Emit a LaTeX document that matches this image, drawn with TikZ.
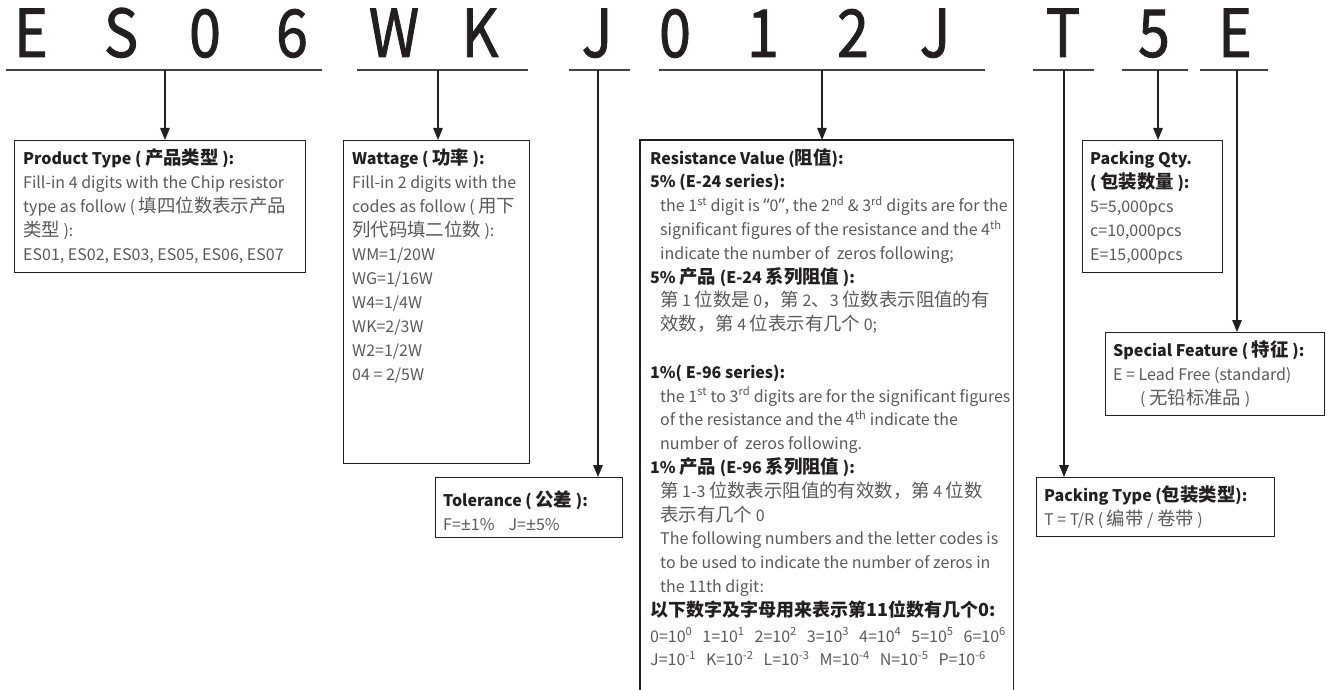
\documentclass[tikz,border=0pt]{standalone}
\usepackage{fontspec}
\setmainfont{Noto Sans CJK SC}
\newfontfamily\latq[Scale=1.1]{Noto Sans}
\newfontfamily\zhf[Scale=1.15]{Noto Sans CJK SC}
\newfontfamily\codefont[FakeBold=1.4]{Noto Sans CJK SC}
\usetikzlibrary{arrows.meta}
\definecolor{ink}{HTML}{231F20}
\definecolor{bodygray}{HTML}{58595B}
\newcommand\hd[1]{\textbf{\textcolor{ink}{#1}}}
\newcommand\zh[1]{{\zhf #1}}
\newcommand\sps[1]{\textsuperscript{#1}}
\newcommand\ind{\hspace*{10pt}}
\newcommand\plmn{{\latq ±}}
\newcommand\codeltr[1]{\scalebox{0.87}[1]{#1}}
\tikzset{
  letter/.style={font=\codefont\fontsize{66}{70}\selectfont, text=ink, inner sep=0pt, anchor=base},
  uline/.style={line width=1.6pt, draw=ink!85},
  conn/.style={line width=1.3pt, draw=ink, -{Triangle[length=12pt,width=9.5pt]}},
  boxr/.style={draw=ink, line width=1.1pt, inner sep=0pt, anchor=north west},
  openbox/.style={inner sep=0pt, anchor=north west},
  txt/.style={anchor=north west, inner sep=0pt, align=left, text=bodygray, font=\fontsize{16}{24}\selectfont},
  rtxt/.style={anchor=north west, inner sep=0pt, align=left, text=bodygray, font=\fontsize{16}{23.8}\selectfont},
}
\begin{document}
\begin{tikzpicture}[x=1pt,y=-1pt]
\path[use as bounding box] (0,0) rectangle (1327,690);

% code letters
\node[letter] (l1) at (31,57) {\codeltr{E}};
\node[letter] (l2) at (121,57) {\codeltr{S}};
\node[letter] (l3) at (205,57) {\codeltr{0}};
\node[letter] (l4) at (292,57) {\codeltr{6}};
\node[letter] (l5) at (394,57) {\codeltr{W}};
\node[letter] (l6) at (480,57) {\codeltr{K}};
\node[letter] (l7) at (597,57) {\codeltr{J}};
\node[letter] (l8) at (675,57) {\codeltr{0}};
\node[letter] (l9) at (763,57) {\codeltr{1}};
\node[letter] (l10) at (853,57) {\codeltr{2}};
\node[letter] (l11) at (935,57) {\codeltr{J}};
\node[letter] (l12) at (1063,57) {\codeltr{T}};
\node[letter] (l13) at (1154,57) {\codeltr{5}};
\node[letter] (l14) at (1235,57) {\codeltr{E}};

% underlines
\coordinate (u1a) at (6,70);    \coordinate (u1b) at (322,70);
\coordinate (u2a) at (357,70);  \coordinate (u2b) at (528,70);
\coordinate (u3a) at (569,70);  \coordinate (u3b) at (630,70);
\coordinate (u4a) at (659,70);  \coordinate (u4b) at (985,70);
\coordinate (u5a) at (1033,70); \coordinate (u5b) at (1094,70);
\coordinate (u6a) at (1122,70); \coordinate (u6b) at (1188,70);
\coordinate (u7a) at (1200,70); \coordinate (u7b) at (1268,70);
\foreach \i in {1,...,7}{\draw[uline] (u\i a) -- (u\i b);}

% arrow start points on the underlines
\coordinate (a1) at (165,70);
\coordinate (a2) at (438,70);
\coordinate (a3) at (598,70);
\coordinate (a4) at (822,70);
\coordinate (a5) at (1064,70);
\coordinate (a6) at (1158,70);
\coordinate (a7) at (1237,70);

% boxes
\node[boxr, minimum width=291pt, minimum height=132pt] (prod) at (14,140) {};
\node[boxr, minimum width=186pt, minimum height=323pt] (watt) at (343,140) {};
\node[boxr, minimum width=187pt, minimum height=60pt] (tol) at (435,477) {};
\node[openbox, minimum width=373pt, minimum height=580pt] (res) at (640,140) {};
\draw[draw=ink, line width=1.1pt] (res.south west) -- (res.north west) -- (res.north east) -- (res.south east);
\node[boxr, minimum width=140pt, minimum height=132pt] (qty) at (1082,140) {};
\node[boxr, minimum width=219pt, minimum height=83pt] (spec) at (1105,332) {};
\node[boxr, minimum width=238pt, minimum height=59pt] (ptype) at (1036,477) {};

% connectors
\draw[conn] (a1) -- (a1 |- prod.north);
\draw[conn] (a2) -- (a2 |- watt.north);
\draw[conn] (a3) -- (a3 |- tol.north);
\draw[conn] (a4) -- (a4 |- res.north);
\draw[conn] (a5) -- (a5 |- ptype.north);
\draw[conn] (a6) -- (a6 |- qty.north);
\draw[conn] (a7) -- (a7 |- spec.north);

% texts
\node[txt] (prodT) at (23,147.2) {\strut\hd{Product Type ( \zh{产品类型} ):}\\
Fill-in 4 digits with the Chip resistor\\
type as follow ( \zh{填四位数表示产品}\\
\zh{类型} ):\\
ES01, ES02, ES03, ES05, ES06, ES07};

\node[txt] (wattT) at (352,147.2) {\strut\hd{Wattage ( \zh{功率} ):}\\
Fill-in 2 digits with the\\
codes as follow ( \zh{用下}\\
\zh{列代码填二位数} ):\\
WM=1/20W\\
WG=1/16W\\
W4=1/4W\\
WK=2/3W\\
W2=1/2W\\
04 = 2/5W};

\node[txt] (tolT) at (443,489.2) {\strut\hd{Tolerance ( \zh{公差} ):}\\
F=\plmn1\%\hspace{14pt}J=\plmn5\%};

\node[rtxt] (resT) at (650,147.3) {\strut\hd{Resistance Value (\zh{阻值}):}\\
\hd{5\% (E-24 series):}\\
\ind the 1\sps{st} digit is {\latq “}0{\latq ”}, the 2\sps{nd} \& 3\sps{rd} digits are for the\\
\ind significant figures of the resistance and the 4\sps{th}\\
\ind indicate the number of\ \ zeros following;\\
\hd{5\% \zh{产品} (E-24 \zh{系列阻值} ):}\\
\ind \zh{第} 1 \zh{位数是} 0\zh{，第} 2\zh{、}3 \zh{位数表示阻值的有}\\
\ind \zh{效数，第} 4 \zh{位表示有几个} 0;\\
\mbox{}\\
\hd{1\%( E-96 series):}\\
\ind the 1\sps{st} to 3\sps{rd} digits are for the significant figures\\
\ind of the resistance and the 4\sps{th} indicate the\\
\ind number of\ \ zeros following.\\
\hd{1\% \zh{产品} (E-96 \zh{系列阻值} ):}\\
\ind \zh{第} 1-3 \zh{位数表示阻值的有效数，第} 4 \zh{位数}\\
\ind \zh{表示有几个} 0\\
\ind The following numbers and the letter codes is\\
\ind to be used to indicate the number of zeros in\\
\ind the 11th digit:\\
{\fontsize{18}{23.8}\selectfont\hd{以下数字及字母用来表示第11位数有几个0:}}\\[2pt]
{\fontsize{16}{23.8}\selectfont 0=10\sps{0}\hspace{10pt}1=10\sps{1}\hspace{10pt}2=10\sps{2}\hspace{10pt}3=10\sps{3}\hspace{10pt}4=10\sps{4}\hspace{10pt}5=10\sps{5}\hspace{10pt}6=10\sps{6}}\\
{\fontsize{16}{23.8}\selectfont J=10\sps{-1}\hspace{10pt}K=10\sps{-2}\hspace{10pt}L=10\sps{-3}\hspace{10pt}M=10\sps{-4}\hspace{10pt}N=10\sps{-5}\hspace{10pt}P=10\sps{-6}}};

\node[txt] (qtyT) at (1090,147.2) {\strut\hd{Packing Qty.}\\
\hd{( \zh{包装数量} ):}\\
5=5,000pcs\\
c=10,000pcs\\
E=15,000pcs};

\node[txt] (specT) at (1113,339.2) {\strut\hd{Special Feature ( \zh{特征} ):}\\
E = Lead Free (standard)\\
\hspace*{27pt}( \zh{无铅标准品} )};

\node[txt] (ptypeT) at (1044,484.2) {\strut\hd{Packing Type (\zh{包装类型}):}\\
T = T/R ( \zh{编带} / \zh{卷带} )};
\end{tikzpicture}
\end{document}
